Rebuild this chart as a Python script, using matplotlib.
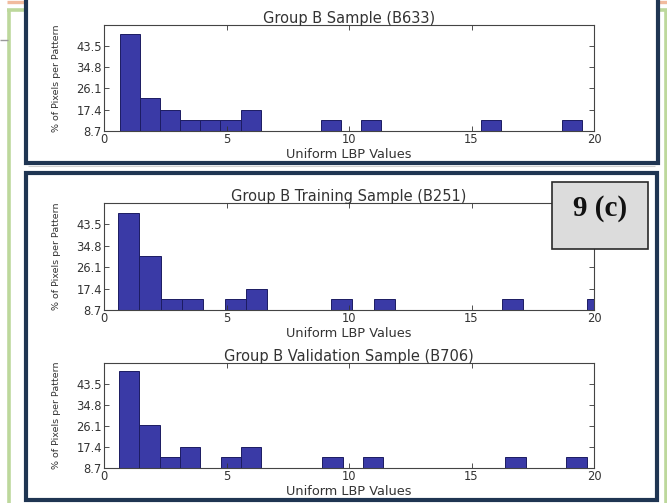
import numpy as np
import matplotlib
matplotlib.use("Agg")
import matplotlib.pyplot as plt
from matplotlib.patches import Rectangle
from matplotlib.lines import Line2D

# ---- data: uniform LBP histograms (percent of pixels per pattern) ----
titles = ["Group B Sample (B633)",
          "Group B Training Sample (B251)",
          "Group B Validation Sample (B706)"]

# first bin edge and bin width of each histogram
bin_start = [0.66, 0.57, 0.61]
bin_width = [0.819, 0.87, 0.83]

b633 = [48.6, 22.0, 17.4, 13.0, 13.0, 13.0, 17.4, 0, 0, 0, 13.0, 0,
        13.0, 0, 0, 0, 0, 0, 13.0, 0, 0, 0, 13.0]
b251 = [48.3, 30.5, 13.2, 13.2, 0, 13.2, 17.4, 0, 0, 0, 13.2, 0,
        13.2, 0, 0, 0, 0, 0, 13.2, 0, 0, 0, 13.2]
b706 = [48.8, 26.3, 13.1, 17.4, 0, 13.1, 17.4, 0, 0, 0, 13.1, 0,
        13.1, 0, 0, 0, 0, 0, 0, 13.1, 0, 0, 13.1]
series = [b633, b251, b706]

yticks = [8.7, 17.4, 26.1, 34.8, 43.5]
xticks = [0, 5, 10, 15, 20]
xlabel = "Uniform LBP Values"
ylabel = "% of Pixels per Pattern"
panel_tag = "9 (c)"

# ---- figure ----
W, H = 667, 503
fig = plt.figure(figsize=(W / 100, H / 100), dpi=100)
fig.patch.set_facecolor("white")


def px_rect(x0, y0, x1, y1):
    """Rectangle in pixel coords measured from the top-left corner."""
    return [x0 / W, 1 - y1 / H, (x1 - x0) / W, (y1 - y0) / H]


def hline(x0, x1, y, color, lw, z=-2):
    fig.add_artist(Line2D([x0 / W, x1 / W], [1 - y / H, 1 - y / H],
                          transform=fig.transFigure, color=color, lw=lw,
                          zorder=z, solid_capstyle="butt"))


def vline(x, y0, y1, color, lw, z=-2):
    fig.add_artist(Line2D([x / W, x / W], [1 - y0 / H, 1 - y1 / H],
                          transform=fig.transFigure, color=color, lw=lw,
                          zorder=z, solid_capstyle="butt"))


navy = "#1f3552"
green = "#bdd89c"
salmon = "#f1bb9e"

# slide decorations
hline(7, 667, 1.5, salmon, 2.4)
hline(7, 667, 10, green, 2.6)
vline(8.5, 10, 503, green, 2.6)
vline(665.5, 10, 503, green, 2.6)
hline(0, 8, 40, "#9a9a9a", 1.0)
hline(28, 655, 166, "#d0d0d0", 0.8)

for (x0, y0, x1, y1) in [(25.5, -6, 657.5, 162.5), (25.5, 172.5, 657, 499.5)]:
    r = px_rect(x0, y0, x1, y1)
    fig.add_artist(Rectangle((r[0], r[1]), r[2], r[3],
                             transform=fig.transFigure, facecolor="white",
                             edgecolor=navy, lw=3.0, zorder=-1))

# axes placement (pixels from top): (top, bottom)
axes_px = [(25.0, 130.7), (203.0, 310.0), (363.0, 467.7)]
bar_face = "#3a3aa6"
bar_edge = "#1c1c62"
text_col = "#333333"

for i, (top, bot) in enumerate(axes_px):
    ax = fig.add_axes(px_rect(104, top, 594, bot))
    ax.set_zorder(1)
    heights = np.asarray(series[i], dtype=float)
    edges = bin_start[i] + bin_width[i] * np.arange(len(heights))
    ax.bar(edges, heights, width=bin_width[i], align="edge",
           color=bar_face, edgecolor=bar_edge, linewidth=0.7)
    ax.set_xlim(0, 20)
    ax.set_ylim(8.7, 52.2)
    ax.set_xticks(xticks)
    ax.set_yticks(yticks)
    ax.set_yticklabels([f"{v:.1f}" for v in yticks])
    ax.tick_params(direction="in", top=True, right=True, length=3.5,
                   width=0.6, labelsize=8.3, colors=text_col, pad=1.5)
    ax.tick_params(axis="y", pad=1.5)
    for s in ax.spines.values():
        s.set_color("#444444")
        s.set_linewidth(0.8)
    ax.set_title(titles[i], fontsize=10.5, color=text_col, pad=1.5)
    ax.set_xlabel(xlabel, fontsize=9.3, color=text_col, labelpad=1.5)
    ax.set_ylabel(ylabel, fontsize=6.8, color=text_col)
    ax.yaxis.set_label_coords(-0.088, 0.5)

# panel tag box
r = px_rect(552, 182, 648, 249)
fig.add_artist(Rectangle((r[0], r[1]), r[2], r[3], transform=fig.transFigure,
                         facecolor="#dcdcdc", edgecolor="#2a2a2a", lw=1.2,
                         zorder=5))
fig.text(600 / W, 1 - 209 / H, panel_tag, ha="center", va="center",
         fontsize=21, fontweight="bold", family="Liberation Serif",
         color="#111111", zorder=6)

fig.savefig("out.png", dpi=100)
